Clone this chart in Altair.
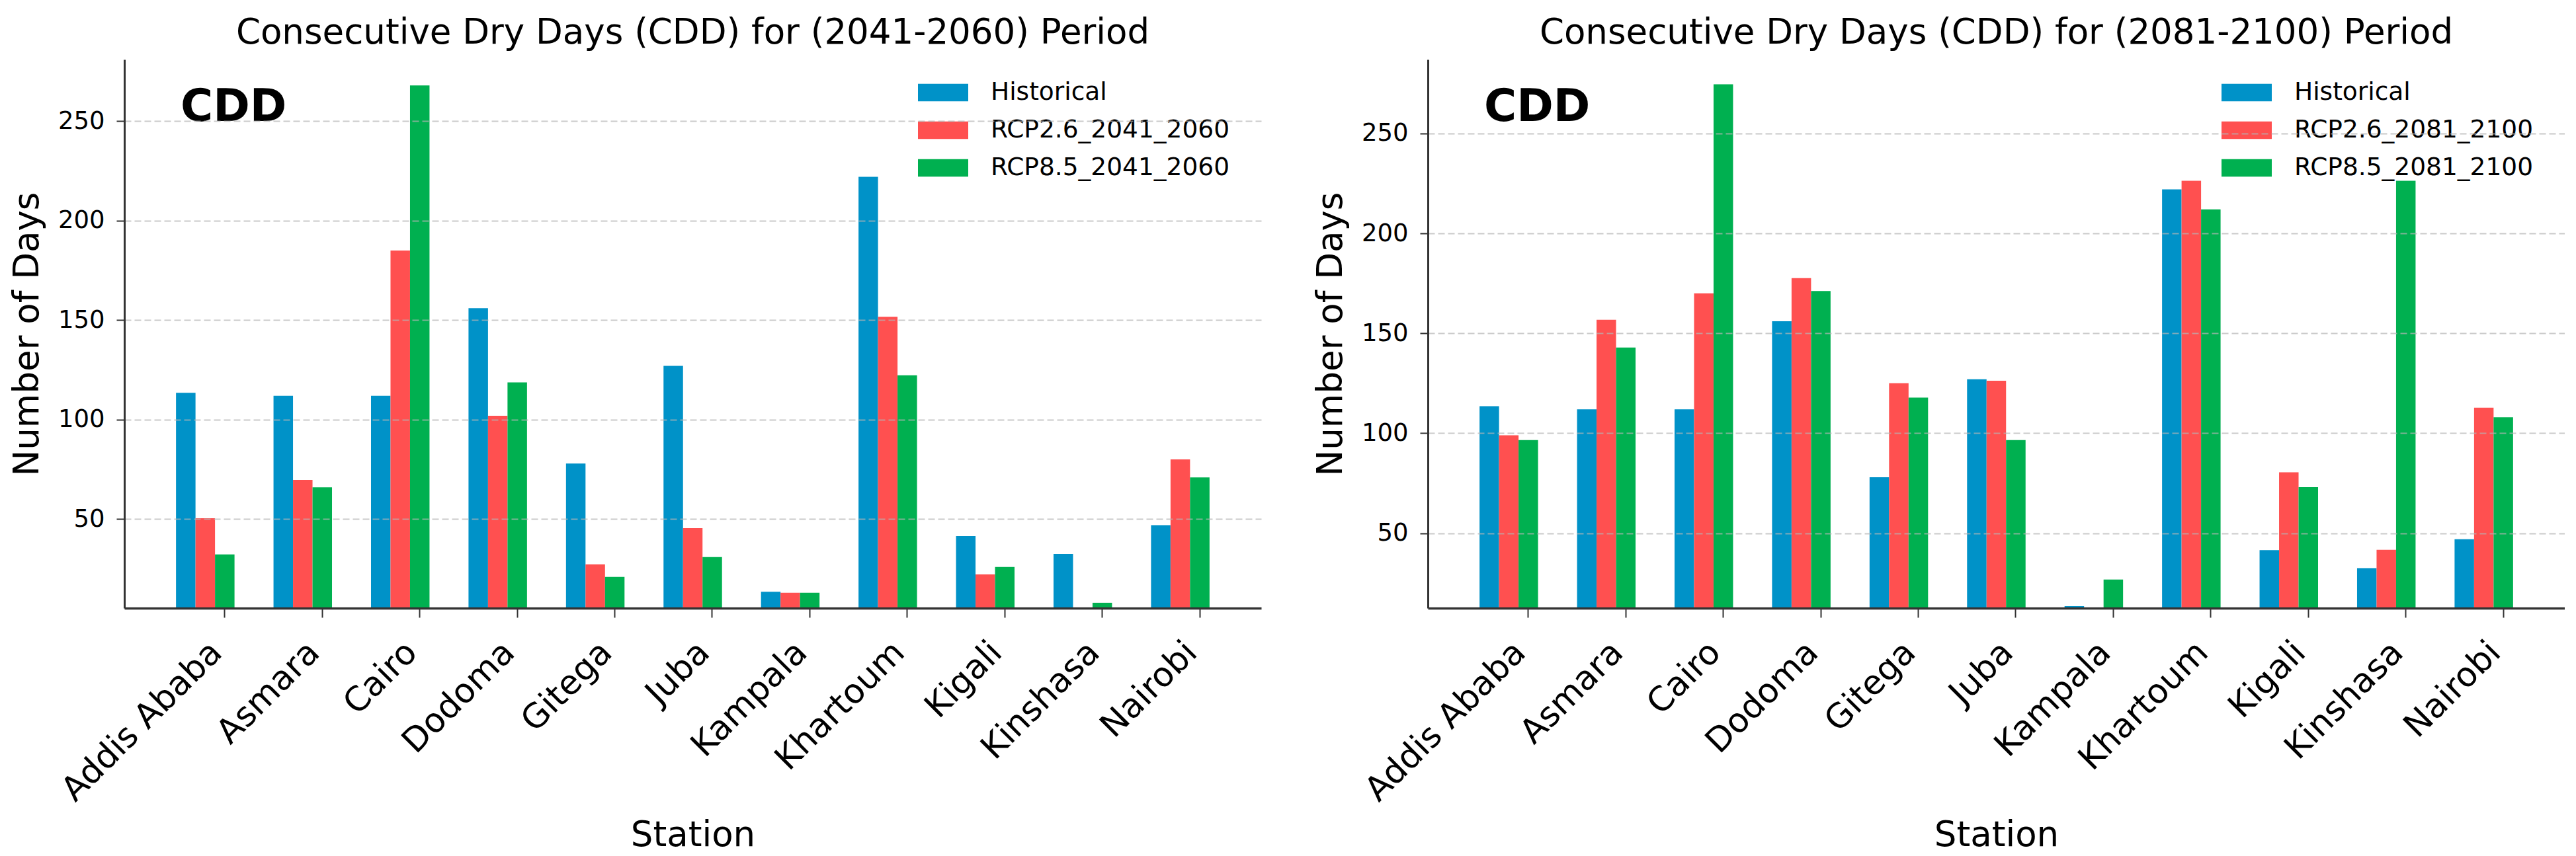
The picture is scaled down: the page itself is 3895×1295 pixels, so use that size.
import altair as alt
import pandas as pd

stations = ["Addis Ababa", "Asmara", "Cairo", "Dodoma", "Gitega", "Juba",
            "Kampala", "Khartoum", "Kigali", "Kinshasa", "Nairobi"]
historical = [113.5, 112, 112, 156, 78, 127, 13.5, 222, 41.5, 32.5, 47]
rcp26_2041_2060 = [50.5, 69.7, 185, 102, 27.3, 45.5, 13, 151.7, 22.2, 4, 80]
rcp85_2041_2060 = [32.3, 66, 268, 118.7, 21, 31, 13, 122.3, 26, 8, 71]
rcp26_2081_2100 = [99, 156.8, 170, 177.6, 125, 126.3, 12, 226.3, 80.5, 41.7, 112.8]
rcp85_2081_2100 = [96.6, 142.9, 274.6, 171.2, 117.8, 96.6, 26.8, 212, 73, 226.3, 108]
y_ticks = [50, 100, 150, 200, 250]
colors = ["#0092C8", "#FF5050", "#00B050"]

FONT = "DejaVu Sans"
W, H = 1719, 830


def panel(period, r26, r85, ydomain):
    tag = period.replace("-", "_")
    series = ["Historical", f"RCP2.6_{tag}", f"RCP8.5_{tag}"]
    rows = []
    for i, st in enumerate(stations):
        for name, vals in zip(series, [historical, r26, r85]):
            rows.append({"Station": st, "Series": name, "Value": vals[i]})
    df = pd.DataFrame(rows)

    bars = alt.Chart(df).mark_bar(clip=True).encode(
        x=alt.X("Station:N", sort=stations,
                scale=alt.Scale(paddingInner=0, paddingOuter=0.33, align=0.803),
                axis=alt.Axis(title="Station", titleFontSize=53, titleFontWeight="normal",
                              titleColor="black", titleFont=FONT,
                              titleBaseline="alphabetic", titleY=359,
                              labelAngle=-45, labelAlign="right", labelBaseline="middle",
                              labelFontSize=51, labelColor="black", labelFont=FONT,
                              labelOffset=-12, labelPadding=45, labelLimit=1000,
                              labelOverlap=False,
                              tickSize=14, tickWidth=2, tickColor="#333333",
                              domainColor="#333333", domainWidth=3.5, grid=False, zindex=1)),
        xOffset=alt.XOffset("Series:N",
                            scale=alt.Scale(domain=series + ["pad_a", "pad_b"],
                                            paddingInner=0, paddingOuter=0)),
        y=alt.Y("Value:Q",
                scale=alt.Scale(domain=ydomain, nice=False, zero=False),
                axis=alt.Axis(title="Number of Days", titleFontSize=53, titleFontWeight="normal",
                              titleColor="black", titlePadding=19, titleFont=FONT,
                              values=y_ticks, labelFontSize=37, labelColor="black",
                              labelFont=FONT, labelPadding=18,
                              tickSize=12, tickWidth=2, tickColor="#333333",
                              domainColor="#333333", domainWidth=3,
                              grid=True, gridColor="#b5b5b5", gridOpacity=0.7,
                              gridDash=[10, 5], gridWidth=2, zindex=1)),
        color=alt.Color("Series:N",
                        scale=alt.Scale(domain=series, range=colors),
                        legend=alt.Legend(title=None, orient="none", legendX=1200, legendY=12,
                                          symbolType="M-1,-0.35L1,-0.35L1,0.35L-1,0.35Z",
                                          symbolSize=5776, symbolStrokeWidth=0,
                                          symbolOpacity=1, labelFontSize=37.5,
                                          labelFont=FONT, labelColor="black",
                                          labelOffset=34, rowPadding=-18.5, padding=0,
                                          labelLimit=1000)),
    )

    label = alt.Chart(pd.DataFrame({"t": ["CDD"]})).mark_text(
        align="left", baseline="alphabetic", fontSize=67, fontWeight="bold",
        font=FONT, color="black"
    ).encode(text="t:N", x=alt.value(85), y=alt.value(93))

    return alt.layer(bars, label).properties(
        width=W, height=H,
        title=alt.TitleParams(f"Consecutive Dry Days (CDD) for ({period}) Period",
                              fontSize=53, font=FONT, fontWeight="normal",
                              color="black", offset=13, anchor="middle"),
    )


left = panel("2041-2060", rcp26_2041_2060, rcp85_2041_2060, [5.3, 281])
right = panel("2081-2100", rcp26_2081_2100, rcp85_2081_2100, [12.5, 287])

chart = alt.hconcat(left, right, spacing=79).resolve_scale(
    color="independent", y="independent", x="independent", xOffset="independent"
).properties(
    padding={"left": 7, "top": 16, "right": 0, "bottom": 0}
).configure(font=FONT).configure_view(stroke=None)

chart.save("out.html", embed_options={"renderer": "svg", "actions": False})
